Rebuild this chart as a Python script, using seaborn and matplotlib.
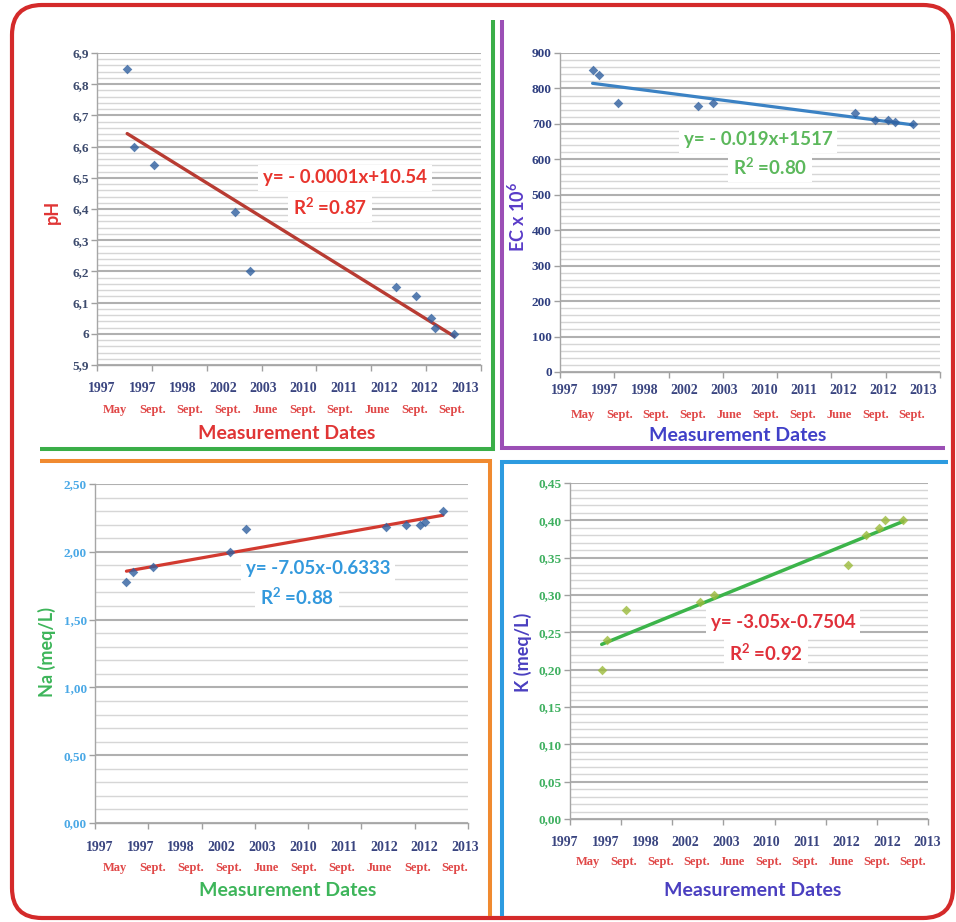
import matplotlib
matplotlib.use("Agg")
import matplotlib.pyplot as plt
import numpy as np
import seaborn as sns
from matplotlib.ticker import FuncFormatter
from matplotlib.patches import FancyBboxPatch

# Sampling campaigns shown under each x axis
years = ["1997", "1997", "1998", "2002", "2003", "2010", "2011", "2012", "2012", "2013"]
months = ["May", "Sept.", "Sept.", "Sept.", "June", "Sept.", "Sept.", "June", "Sept.", "Sept."]

# pH
ph_t = [0.55, 0.67, 1.03, 2.51, 2.79, 5.45, 5.81, 6.09, 6.17, 6.51]
ph = [6.85, 6.60, 6.54, 6.39, 6.20, 6.15, 6.12, 6.05, 6.02, 6.00]

# Electrical conductivity (EC x 10^6)
ec_t = [0.60, 0.72, 1.07, 2.55, 2.82, 5.43, 5.80, 6.04, 6.17, 6.50]
ec = [851, 839, 760, 750, 760, 730, 710, 710, 705, 700]

# Sodium (meq/L)
na_t = [0.59, 0.72, 1.08, 2.53, 2.83, 5.46, 5.83, 6.09, 6.19, 6.53]
na = [1.78, 1.85, 1.89, 2.00, 2.17, 2.18, 2.20, 2.20, 2.22, 2.30]

# Potassium (meq/L)
k_t = [0.62, 0.73, 1.09, 2.55, 2.81, 5.44, 5.79, 6.04, 6.15, 6.51]
k = [0.20, 0.24, 0.28, 0.29, 0.30, 0.34, 0.38, 0.39, 0.40, 0.40]

# Trend-line equations as published
eq_ph = ["y= - 0.0001x+10.54", "R$^2$ =0.87"]
eq_ec = ["y= - 0.019x+1517", "R$^2$ =0.80"]
eq_na = ["y= -7.05x-0.6333", "R$^2$ =0.88"]
eq_k = ["y= -3.05x-0.7504", "R$^2$ =0.92"]

sns.set_style("white")
plt.rcParams["font.family"] = ["Lato", "DejaVu Sans"]
plt.rcParams["mathtext.default"] = "regular"

W, H = 956, 922
fig = plt.figure(figsize=(W / 100, H / 100), dpi=100)


def frac_rect(x0, y0, x1, y1):
    return [x0 / W, 1 - y1 / H, (x1 - x0) / W, (y1 - y0) / H]


def fmt_ph(v, _):
    s = f"{v:.1f}".rstrip("0").rstrip(".")
    return s.replace(".", ",")


def fmt_int(v, _):
    return f"{v:.0f}"


def fmt_2(v, _):
    return f"{v:.2f}".replace(".", ",")


panels = [
    dict(t=ph_t, v=ph, box=(97, 53, 481, 365), lo=5.9, hi=6.9, n=11, fmt=fmt_ph,
         tick_c="#3d4b6e", mk="#2f5f9f", ln="#b83b32", lw=2.4,
         ylab="pH", ylab_c="#e03535", ylab_xy=(52, 212),
         title_c="#e03535", title_xy=(287, 433),
         yr=(102, 465, 388), mo=(115, 452, 410),
         eq=eq_ph, eq_c="#e8352e", eq_xy=[(345, 178), (330, 207)]),
    dict(t=ec_t, v=ec, box=(560, 53, 940, 372), lo=0, hi=900, n=10, fmt=fmt_int,
         tick_c="#2f3f80", mk="#2f5f9f", ln="#3b82c4", lw=2.3,
         ylab="EC x 10$^6$", ylab_c="#5a3cc8", ylab_xy=(517, 217),
         title_c="#4040c8", title_xy=(738, 435),
         yr=(565, 923, 390), mo=(583, 912, 415),
         eq=eq_ec, eq_c="#5cb85c", eq_xy=[(758, 140), (770, 167)]),
    dict(t=na_t, v=na, box=(95, 484, 468, 823), lo=0.0, hi=2.5, n=6, fmt=fmt_2,
         tick_c="#49a8e6", mk="#2f5f9f", ln="#d23a30", lw=2.3,
         ylab="Na (meq/L)", ylab_c="#3db55a", ylab_xy=(47, 652),
         title_c="#3db55a", title_xy=(288, 890),
         yr=(100, 465, 847), mo=(115, 455, 868),
         eq=eq_na, eq_c="#3399dd", eq_xy=[(318, 568), (297, 597)]),
    dict(t=k_t, v=k, box=(570, 483, 928, 819), lo=0.0, hi=0.45, n=10, fmt=fmt_2,
         tick_c="#3fb060", mk="#9bbb3b", ln="#3cb44a", lw=2.5,
         ylab="K (meq/L)", ylab_c="#4a3fc0", ylab_xy=(523, 652),
         title_c="#4a3fc0", title_xy=(753, 890),
         yr=(565, 927, 842), mo=(588, 913, 862),
         eq=eq_k, eq_c="#e0303a", eq_xy=[(783, 622), (766, 653)]),
]

for p in panels:
    ax = fig.add_axes(frac_rect(*p["box"]))
    sns.regplot(x=p["t"], y=p["v"], ax=ax, ci=None, truncate=True, marker="D",
                scatter_kws=dict(s=24, color=p["mk"], linewidths=0, zorder=3),
                line_kws=dict(color=p["ln"], lw=p["lw"], zorder=2))
    ax.set_xlim(0, 7)
    ax.set_ylim(p["lo"], p["hi"])
    ax.set_xticks(range(8))
    ax.set_xticklabels([])
    ax.set_yticks(np.linspace(p["lo"], p["hi"], p["n"]))
    ax.set_yticks(np.linspace(p["lo"], p["hi"], 5 * (p["n"] - 1) + 1), minor=True)
    ax.yaxis.set_major_formatter(FuncFormatter(p["fmt"]))
    ax.set_xlabel("")
    ax.set_ylabel("")
    ax.set_axisbelow(True)
    ax.grid(False, axis="x")
    ax.grid(True, which="major", axis="y", color="#b0b0b0", lw=1.5)
    ax.grid(True, which="minor", axis="y", color="#d6d6d6", lw=1.0)
    for side in ("top", "right"):
        ax.spines[side].set_visible(False)
    for side in ("left", "bottom"):
        ax.spines[side].set_color("#a6a6a6")
        ax.spines[side].set_linewidth(1.0)
    ax.tick_params(axis="y", which="major", left=True, length=4, width=1,
                   color="#a0a0a0", pad=2)
    ax.tick_params(axis="y", which="minor", left=False, length=0)
    ax.tick_params(axis="x", which="major", bottom=True, length=4, width=1,
                   color="#a0a0a0", direction="out")
    for lab in ax.get_yticklabels():
        lab.set_fontfamily("Liberation Serif")
        lab.set_fontweight("bold")
        lab.set_fontsize(9.5)
        lab.set_color(p["tick_c"])

# Overlay in pixel coordinates for frame, dividers and captions
ov = fig.add_axes([0, 0, 1, 1], zorder=5)
ov.set_xlim(0, W)
ov.set_ylim(H, 0)
ov.axis("off")
ov.patch.set_alpha(0)

frame = FancyBboxPatch((12, 5), 941, 913, boxstyle="round,pad=0,rounding_size=30",
                       fill=False, ec="#d42a2a", lw=3.0, clip_on=False)
ov.add_patch(frame)

dividers = [
    ("#3aae48", [(493, 20), (493, 449), (40, 449)]),
    ("#9b4fb5", [(502, 20), (502, 448), (945, 448)]),
    ("#f08a30", [(40, 461), (490, 461), (490, 916)]),
    ("#2d9be0", [(948, 462), (502, 462), (502, 916)]),
]
for col, pts in dividers:
    xs, ys = zip(*pts)
    ov.plot(xs, ys, color=col, lw=2.9, solid_joinstyle="miter", solid_capstyle="butt")

for p in panels:
    x0, x1, y = p["yr"]
    for xx, lab in zip(np.linspace(x0, x1, len(years)), years):
        ov.text(xx, y, lab, ha="center", va="center", family="Liberation Serif",
                weight="bold", fontsize=10, color="#3a4580")
    x0, x1, y = p["mo"]
    for xx, lab in zip(np.linspace(x0, x1, len(months)), months):
        ov.text(xx, y, lab, ha="center", va="center", family="Liberation Serif",
                weight="bold", fontsize=9, color="#e04848")
    ov.text(*p["title_xy"], "Measurement Dates", ha="center", va="center",
            fontsize=14, weight="bold", color=p["title_c"])
    ov.text(*p["ylab_xy"], p["ylab"], ha="center", va="center", rotation=90,
            fontsize=13, weight="bold", color=p["ylab_c"])
    for (xx, yy), line in zip(p["eq_xy"], p["eq"]):
        ov.text(xx, yy, line, ha="center", va="center", fontsize=13.5, weight="bold",
                color=p["eq_c"],
                bbox=dict(boxstyle="square,pad=0.25", fc="white", ec="none"))

fig.savefig("out.png", dpi=100, facecolor="white")
